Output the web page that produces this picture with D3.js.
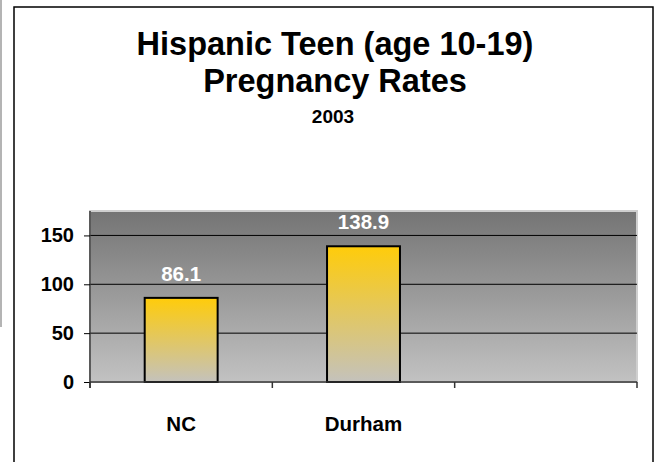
<html>
  <head>
     <meta charset="utf-8" />
     <script src="https://d3js.org/d3.v7.min.js"></script>
     <style>
        body { margin: 0; background: #fff; }
        text { font-family: "Liberation Sans", Arial, sans-serif; font-weight: bold; }
     </style>
  </head>
  <body>
     <div id="chart"></div>
     <script>
         // data
         const categories = ["NC", "Durham", ""];
         const values = [86.1, 138.9];
         const yTicks = [0, 50, 100, 150];
         const titleLines = ["Hispanic Teen (age 10-19)", "Pregnancy Rates"];
         const subtitle = "2003";

         const width = 660, height = 462;
         const plot = {left: 90, top: 211, right: 637, bottom: 382};

         const svg = d3.select("#chart")
            .append("svg")
            .attr("width", width)
            .attr("height", height);

         const defs = svg.append("defs");
         let bg = defs.append("linearGradient").attr("id", "bg")
            .attr("x1", 0).attr("y1", 0).attr("x2", 0).attr("y2", 1);
         bg.append("stop").attr("offset", "0%").attr("stop-color", "#747474");
         bg.append("stop").attr("offset", "100%").attr("stop-color", "#c2c2c2");
         let bar = defs.append("linearGradient").attr("id", "bar")
            .attr("x1", 0).attr("y1", 0).attr("x2", 0).attr("y2", 1);
         bar.append("stop").attr("offset", "0%").attr("stop-color", "#ffcc0a");
         bar.append("stop").attr("offset", "100%").attr("stop-color", "#c4c2bc");

         // grey strip on the far left
         svg.append("rect").attr("x", 0).attr("y", 0).attr("width", 2).attr("height", 327)
            .attr("fill", "#b4b4b4");

         // outer frame
         svg.append("rect").attr("x", 14).attr("y", 7).attr("width", 639).attr("height", 470)
            .attr("fill", "white").attr("stroke", "black").attr("stroke-width", 1.5);

         // titles
         svg.selectAll(".title").data(titleLines).enter().append("text")
            .attr("x", 335).attr("y", (d, i) => 55 + i * 37)
            .attr("text-anchor", "middle")
            .attr("font-size", 32.5)
            .text(d => d);
         svg.append("text").attr("x", 333).attr("y", 123)
            .attr("text-anchor", "middle").attr("font-size", 19).text(subtitle);

         const x = d3.scaleBand().domain(categories).range([plot.left, plot.right]);
         const y = d3.scaleLinear().domain([0, 175]).range([plot.bottom, plot.top]);

         // plot background
         svg.append("rect")
            .attr("x", plot.left).attr("y", plot.top)
            .attr("width", plot.right - plot.left).attr("height", plot.bottom - plot.top)
            .attr("fill", "url(#bg)").attr("stroke", "#cfcfcf").attr("stroke-width", 2);

         // gridlines
         svg.selectAll(".grid").data(yTicks.filter(d => d > 0)).enter().append("line")
            .attr("x1", plot.left).attr("x2", plot.right)
            .attr("y1", d => y(d)).attr("y2", d => y(d))
            .attr("stroke", "black").attr("stroke-width", 1);

         // bars
         svg.selectAll(".bar").data(values).enter().append("rect")
            .attr("x", (d, i) => x(categories[i]) + x.bandwidth() * 0.3)
            .attr("y", d => y(d))
            .attr("width", x.bandwidth() * 0.4)
            .attr("height", d => y(0) - y(d))
            .attr("fill", "url(#bar)").attr("stroke", "black").attr("stroke-width", 2);

         svg.selectAll(".val").data(values).enter().append("text")
            .attr("x", (d, i) => x(categories[i]) + x.bandwidth() / 2)
            .attr("y", d => y(d) - 17)
            .attr("text-anchor", "middle").attr("font-size", 20.5).attr("fill", "white")
            .text(d => d.toFixed(1));

         // y axis
         const yAxis = svg.append("g").attr("transform", "translate(" + plot.left + ",0)")
            .call(d3.axisLeft(y).tickValues(yTicks).tickSize(6).tickPadding(10));
         yAxis.select(".domain").attr("stroke", "#333").attr("stroke-width", 1.5)
            .attr("d", "M0," + plot.top + "V" + (plot.bottom + 6));
         yAxis.selectAll("text").attr("font-size", 20).attr("fill", "black")
            .attr("font-family", "Liberation Sans, Arial, sans-serif");

         // x axis
         const xAxis = svg.append("g").attr("transform", "translate(0," + plot.bottom + ")")
            .call(d3.axisBottom(x).tickSize(0).tickPadding(34));
         xAxis.select(".domain").attr("stroke", "#333").attr("stroke-width", 1.5)
            .attr("d", "M" + plot.left + ",0H" + plot.right);
         xAxis.selectAll("text").attr("font-size", 20.5).attr("fill", "black")
            .attr("font-family", "Liberation Sans, Arial, sans-serif");
         const bounds = x.domain().map(c => x(c)).concat([plot.right]);
         xAxis.selectAll(".sep").data(bounds).enter().append("line")
            .attr("x1", d => d).attr("x2", d => d).attr("y1", 0).attr("y2", 6)
            .attr("stroke", "#333").attr("stroke-width", 1.5);
     </script>
  </body>
</html>
